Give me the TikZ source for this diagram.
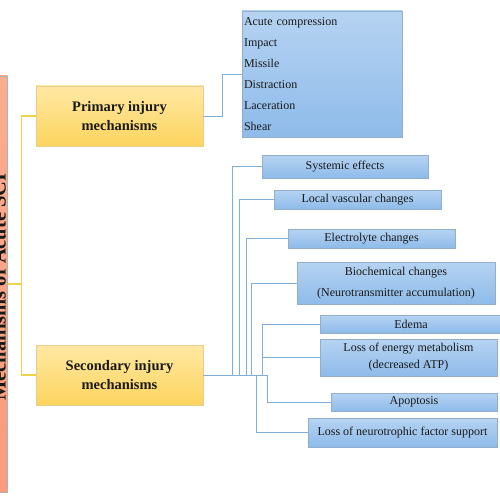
\documentclass[tikz,border=0pt]{standalone}
\usepackage{fontspec}
\setmainfont{Liberation Serif}
\usetikzlibrary{shadows}
\definecolor{goldtop}{HTML}{FFE8A3}
\definecolor{goldbot}{HTML}{FCD45E}
\definecolor{goldrim}{HTML}{E6CF8E}
\definecolor{bluetop}{HTML}{B6D3F2}
\definecolor{bluebot}{HTML}{8EBBEA}
\definecolor{bluerim}{HTML}{93ADCC}
\definecolor{salmtop}{HTML}{FBAD91}
\definecolor{salmbot}{HTML}{F89C7C}
\definecolor{bluewire}{HTML}{7EB0DB}
\definecolor{goldwire}{HTML}{EDD24E}

\begin{document}
\begin{tikzpicture}[x=1pt,y=-1pt,
	gold/.style={draw=goldrim, top color=goldtop, bottom color=goldbot, minimum width=167, minimum height=60,
		align=center, font=\fontsize{14.5}{19}\selectfont\bfseries, text=black!90, drop shadow={shadow xshift=1pt, shadow yshift=-1pt, opacity=0.2}},
	item/.style={draw=bluerim, top color=bluetop, bottom color=bluebot, align=center,
		font=\fontsize{12}{21}\selectfont, text=black!90, inner sep=1pt, drop shadow={shadow xshift=1pt, shadow yshift=-1pt, opacity=0.2}},
	bwire/.style={draw=bluewire, line width=0.9pt},
	ywire/.style={draw=goldwire, line width=1.1pt}]
	\clip (0,0) rectangle (500,500);
	\useasboundingbox (0,0) rectangle (500,500);
	% root of the tree, cut by the left margin
	\node [draw=gray!60, top color=salmtop, bottom color=salmbot, minimum width=29.5, minimum height=416] (root) at (-7.25,284) {};
	\node [rotate=90, anchor=base, font=\fontsize{20.5}{24}\selectfont\bfseries, text=black!90] (roottext) at (5.5,287) {Mechanisms of Acute SCI};
	% two branches
	\node [gold] (prim) at (119.5,116) {Primary injury\\mechanisms};
	\node [gold] (sec) at (119.5,375) {Secondary injury\\mechanisms};
	\draw [ywire] (root.east) -- ++(13.5,0) |- (prim.west);
	\draw [ywire] (root.east) -- ++(13.5,0) |- (sec.west);
	% primary list
	\node [item, align=left, text width=156, inner xsep=2pt, minimum height=126] (plist) at (322,74)
		{Acute compression\\Impact\\Missile\\Distraction\\Laceration\\Shear};
	\draw [bwire] (prim.east) -- ++(19,0) |- (plist.west);
	% secondary list
	\node [item, minimum width=166, minimum height=23] (sys) at (345,166.5) {Systemic effects};
	\node [item, minimum width=167, minimum height=19] (loc) at (357.5,199.5) {Local vascular changes};
	\node [item, minimum width=167, minimum height=19] (ele) at (371.5,238.5) {Electrolyte changes};
	\node [item, minimum width=198, minimum height=42] (bio) at (396,283) {Biochemical changes\\(Neurotransmitter accumulation)};
	\node [item, minimum width=182, minimum height=18] (ede) at (411,324) {Edema};
	\node [item, minimum width=177, minimum height=37, font=\fontsize{12}{17}\selectfont] (ene) at (408.5,357.5) {Loss of energy metabolism\\(decreased ATP)};
	\node [item, minimum width=166, minimum height=18] (apo) at (414,402) {Apoptosis};
	\node [item, minimum width=189, minimum height=29] (neu) at (402.5,432.5) {Loss of neurotrophic factor support};
	\draw [bwire] (sec.east) -- ++(64,0);
	\draw [bwire] (sec.east) -- ++(29,0) |- (sys.west);
	\draw [bwire] (sec.east) -- ++(36,0) |- (loc.west);
	\draw [bwire] (sec.east) -- ++(43,0) |- (ele.west);
	\draw [bwire] (sec.east) -- ++(48,0) |- (bio.west);
	\draw [bwire] (sec.east) -- ++(59,0) |- (ede.west);
	\draw [bwire] (sec.east) -- ++(59,0) |- (ene.west);
	\draw [bwire] (sec.east) -- ++(64,0) |- (apo.west);
	\draw [bwire] (sec.east) -- ++(53,0) |- (neu.west);
\end{tikzpicture}
\end{document}
